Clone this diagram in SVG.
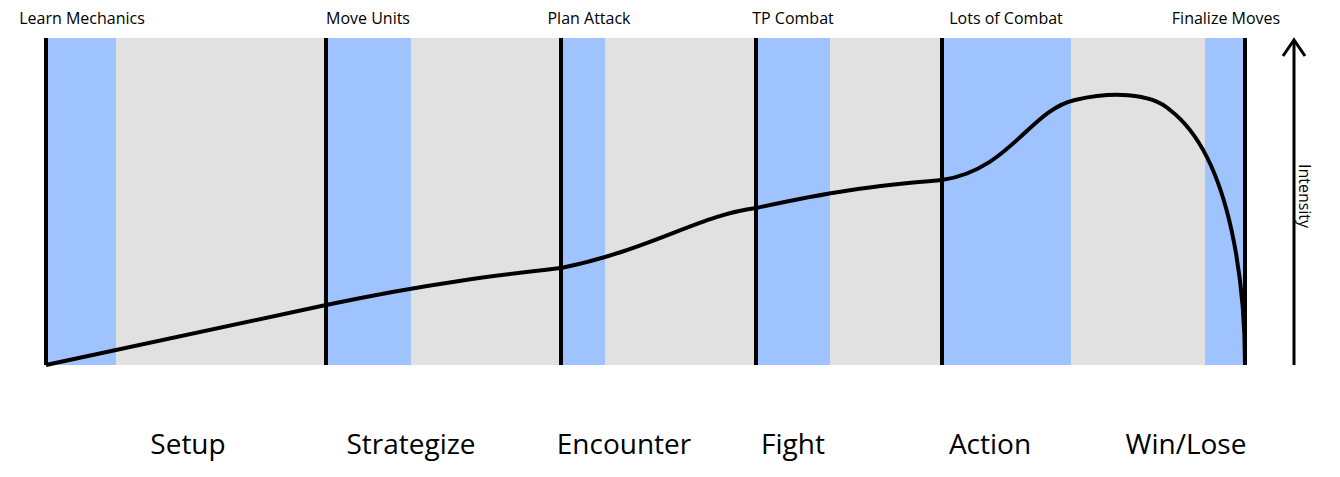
<svg xmlns="http://www.w3.org/2000/svg" width="1340" height="477" viewBox="0 0 1340 477">
<style>
.b{fill:#9ec3ff}
.v{stroke:#000;stroke-width:4}
.t{font-family:"Open Sans","Liberation Sans",sans-serif;font-size:16px;fill:#000;text-anchor:middle}
.p{font-family:"Open Sans","Liberation Sans",sans-serif;font-size:28px;fill:#000;text-anchor:middle}
</style>
<rect width="1340" height="477" fill="#fff"/>
<g id="bg">
<rect x="46" y="38" width="1199" height="327" fill="#e1e1e1"/>
<rect class="b" x="46" y="38" width="70" height="327"/>
<rect class="b" x="328" y="38" width="83" height="327"/>
<rect class="b" x="563" y="38" width="42" height="327"/>
<rect class="b" x="758" y="38" width="72" height="327"/>
<rect class="b" x="944" y="38" width="127" height="327"/>
<rect class="b" x="1205" y="38" width="40" height="327"/>
</g>
<g id="connectors">
<line class="v" x1="46" y1="38" x2="46" y2="365"/>
<line class="v" x1="326" y1="38" x2="326" y2="365"/>
<line class="v" x1="561" y1="38" x2="561" y2="365"/>
<line class="v" x1="756" y1="38" x2="756" y2="365"/>
<line class="v" x1="942" y1="38" x2="942" y2="365"/>
<line class="v" x1="1245" y1="38" x2="1245" y2="365"/>
<path d="M46,365 L326,305 C430,283 500,275 561,268 C650,250 700,215 756,208 C830,192 870,186 942,180 C1010,170 1030,110 1075,100 C1110,92 1150,92 1170,110 C1235,160 1245,300 1245,365" fill="none" stroke="#000" stroke-width="4"/>
<line x1="1294" y1="365" x2="1294" y2="42" stroke="#000" stroke-width="3"/>
<path d="M1283,56 L1294,40 L1305,56" fill="none" stroke="#000" stroke-width="3"/>
</g>
<g id="labels">
<text class="t" x="82" y="24">Learn Mechanics</text>
<text class="t" x="368" y="24">Move Units</text>
<text class="t" x="589" y="24">Plan Attack</text>
<text class="t" x="793" y="24">TP Combat</text>
<text class="t" x="1006" y="24">Lots of Combat</text>
<text class="t" x="1226" y="24">Finalize Moves</text>
<text class="t" transform="translate(1299,196) rotate(90)" x="0" y="0">Intensity</text>
<text class="p" x="188" y="454">Setup</text>
<text class="p" x="411" y="454">Strategize</text>
<text class="p" x="624" y="454">Encounter</text>
<text class="p" x="793" y="454">Fight</text>
<text class="p" x="990" y="454">Action</text>
<text class="p" x="1186" y="454">Win/Lose</text>
</g>
</svg>
